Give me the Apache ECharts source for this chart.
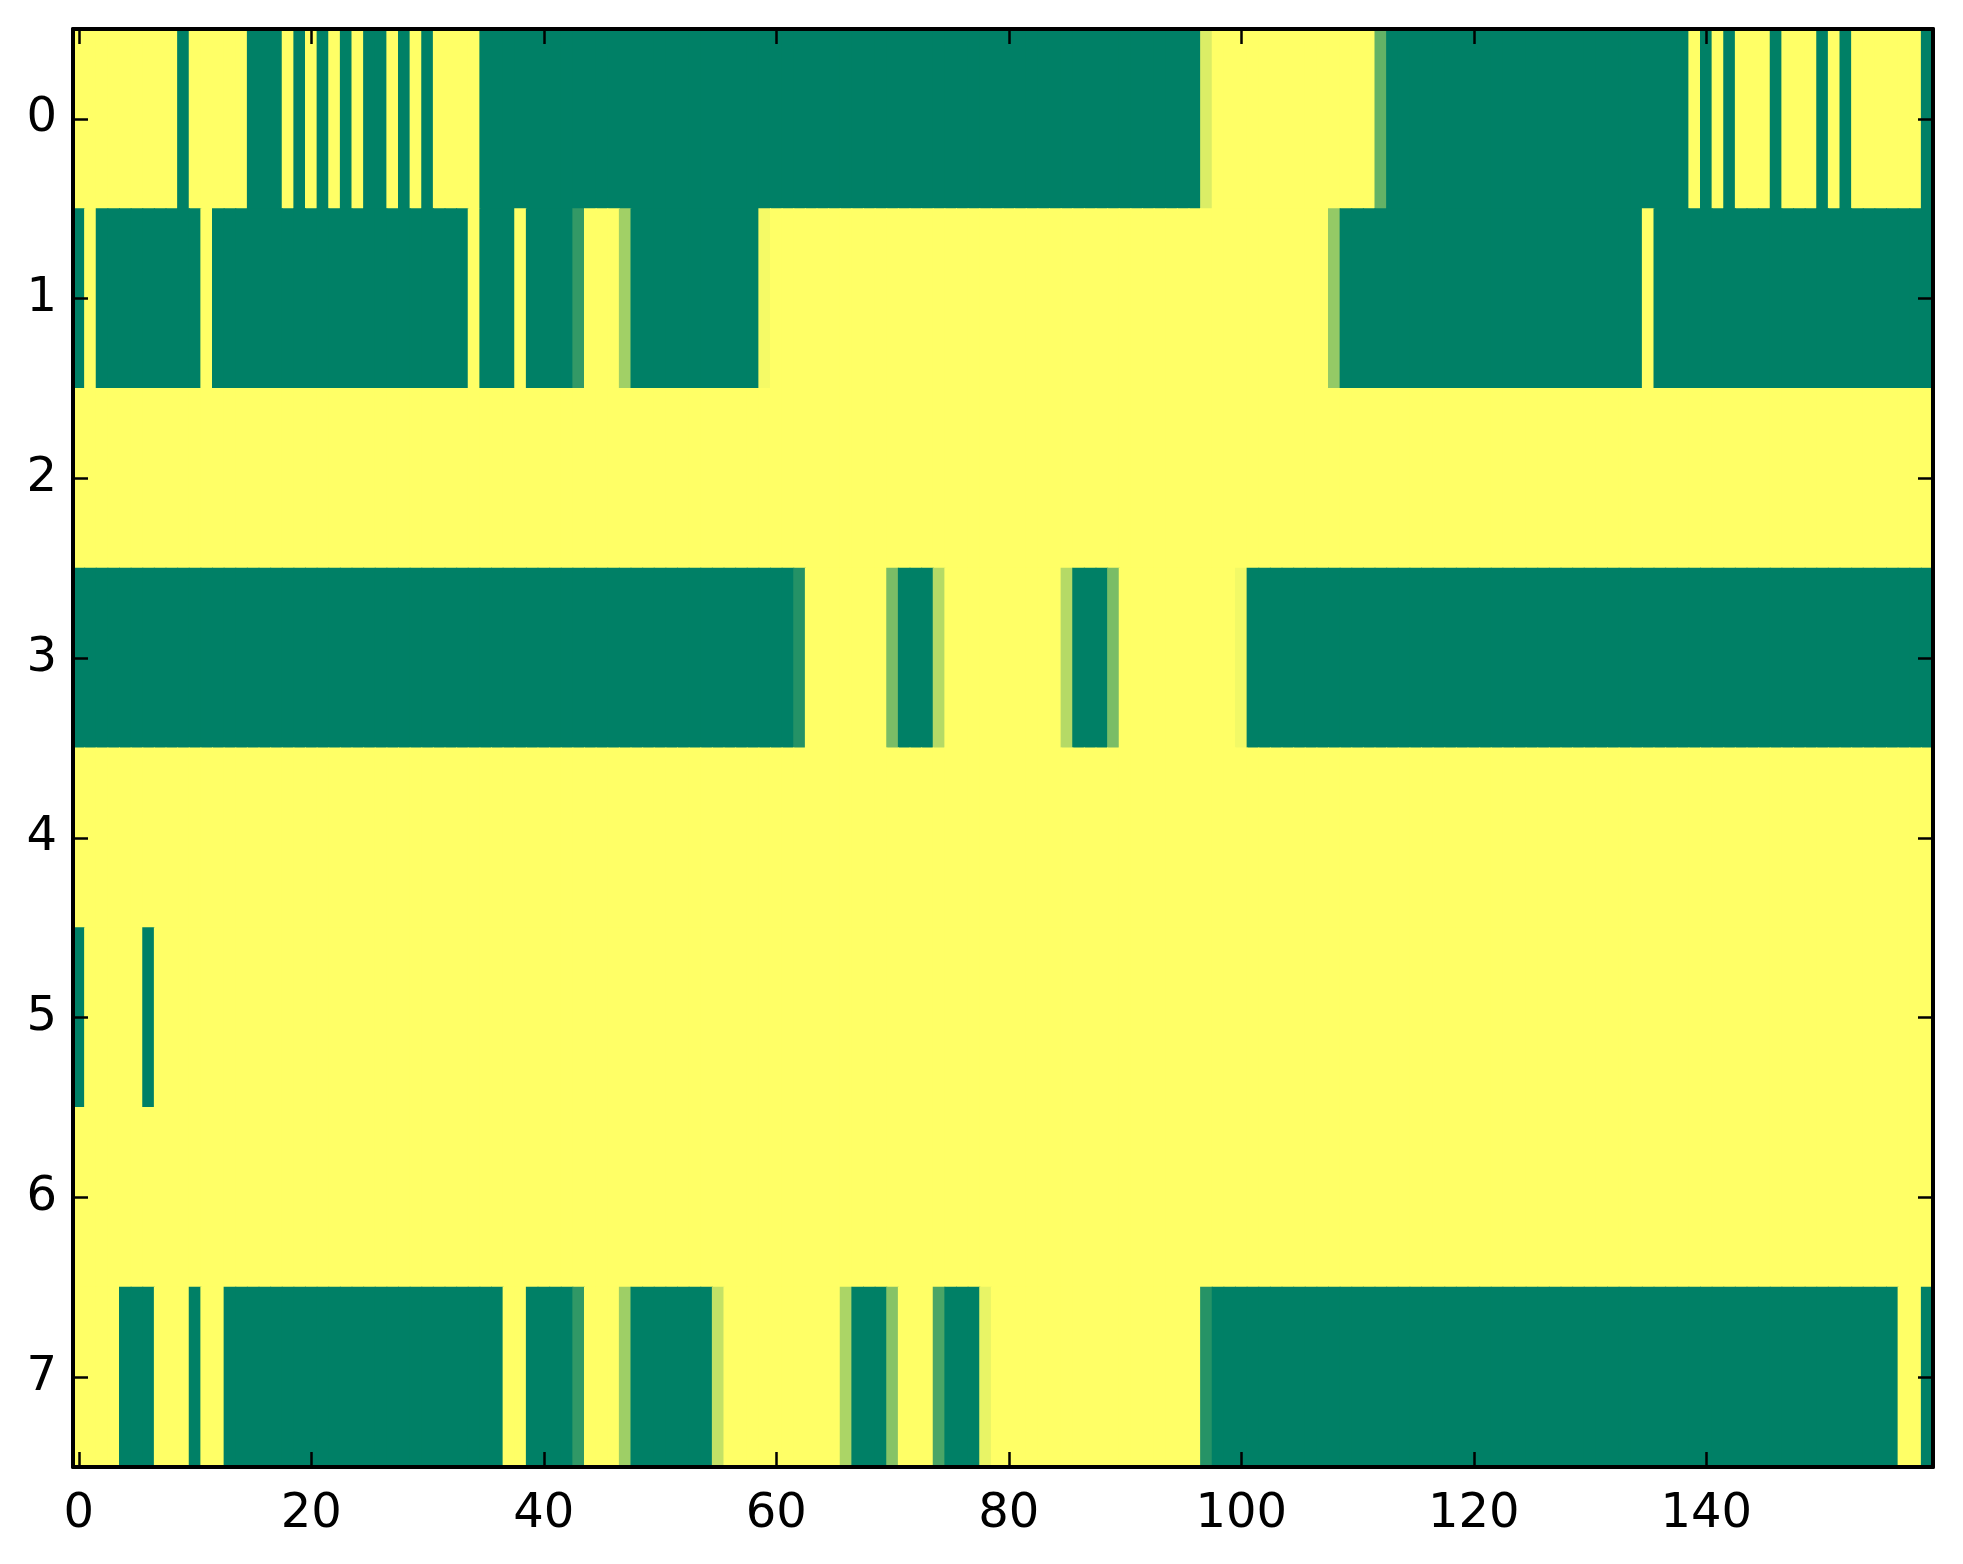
<!DOCTYPE html>
<html>
<head>
<meta charset="utf-8">
<script src="https://cdn.jsdelivr.net/npm/echarts@6/dist/echarts.min.js"></script>
<style>
html,body{margin:0;padding:0;background:#fff;}
#chart{width:1963px;height:1564px;}
</style>
</head>
<body>
<div id="chart"></div>
<script>
// Row categories (top to bottom) and column categories
const yCats = ['0','1','2','3','4','5','6','7'];
const xCats = [];
for (let i = 0; i < 160; i++) xCats.push(String(i));
const xTickEvery = 20;

// Cell values per row (0 = green, 1 = yellow)
const row0 = [1,1,1,1,1,1,1,1,1,0,1,1,1,1,1,0,0,0,1,0,1,0,1,0,1,0,0,1,0,1,0,1,1,1,1,
0,0,0,0,0,0,0,0,0,0,0,0,0,0,0,0,0,0,0,0,0,0,0,0,0,0,0,0,0,0,0,0,0,0,0,0,0,0,0,0,0,0,0,0,0,0,0,0,0,0,0,0,0,0,0,0,0,0,0,0,0,0,
0.86,1,1,1,1,1,1,1,1,1,1,1,1,1,1,0.39,
0,0,0,0,0,0,0,0,0,0,0,0,0,0,0,0,0,0,0,0,0,0,0,0,0,0,
1,0,1,0,1,1,1,0,1,1,1,0,1,0,1,1,1,1,1,1,0];
const row1 = [0,1,0,0,0,0,0,0,0,0,0,1,0,0,0,0,0,0,0,0,0,0,0,0,0,0,0,0,0,0,0,0,0,0,1,0,0,0,1,0,0,0,0,
0.2,1,1,1,0.63,0,0,0,0,0,0,0,0,0,0,0,0.96,
1,1,1,1,1,1,1,1,1,1,1,1,1,1,1,1,1,1,1,1,1,1,1,1,1,1,1,1,1,1,1,1,1,1,1,1,1,1,1,1,1,1,1,1,1,1,1,1,
0.58,0,0,0,0,0,0,0,0,0,0,0,0,0,0,0,0,0,0,0,0,0,0,0,0,0,0,1,
0,0,0,0,0,0,0,0,0,0,0,0,0,0,0,0,0,0,0,0,0,0,0,0];
const row2 = [1,1,1,1,1,1,1,1,1,1,1,1,1,1,1,1,1,1,1,1,1,1,1,1,1,1,1,1,1,1,1,1,1,1,1,1,1,1,1,1,
1,1,1,1,1,1,1,1,1,1,1,1,1,1,1,1,1,1,1,1,1,1,1,1,1,1,1,1,1,1,1,1,1,1,1,1,1,1,1,1,
1,1,1,1,1,1,1,1,1,1,1,1,1,1,1,1,1,1,1,1,1,1,1,1,1,1,1,1,1,1,1,1,1,1,1,1,1,1,1,1,
1,1,1,1,1,1,1,1,1,1,1,1,1,1,1,1,1,1,1,1,1,1,1,1,1,1,1,1,1,1,1,1,1,1,1,1,1,1,1,1];
const row3 = [0,0,0,0,0,0,0,0,0,0,0,0,0,0,0,0,0,0,0,0,0,0,0,0,0,0,0,0,0,0,0,0,0,0,0,0,0,0,0,0,
0,0,0,0,0,0,0,0,0,0,0,0,0,0,0,0,0,0,0,0,0,0,
0.14,1,1,1,1,1,1,1,0.48,0,0,0,0.71,1,1,1,1,1,1,1,1,1,1,0.71,0,0,0,0.48,1,1,1,1,1,1,1,1,1,1,0.95,
0,0,0,0,0,0,0,0,0,0,0,0,0,0,0,0,0,0,0,0,0,0,0,0,0,0,0,0,0,0,0,0,0,0,0,0,0,0,0,0,
0,0,0,0,0,0,0,0,0,0,0,0,0,0,0,0,0,0,0];
const row4 = [1,1,1,1,1,1,1,1,1,1,1,1,1,1,1,1,1,1,1,1,1,1,1,1,1,1,1,1,1,1,1,1,1,1,1,1,1,1,1,1,
1,1,1,1,1,1,1,1,1,1,1,1,1,1,1,1,1,1,1,1,1,1,1,1,1,1,1,1,1,1,1,1,1,1,1,1,1,1,1,1,
1,1,1,1,1,1,1,1,1,1,1,1,1,1,1,1,1,1,1,1,1,1,1,1,1,1,1,1,1,1,1,1,1,1,1,1,1,1,1,1,
1,1,1,1,1,1,1,1,1,1,1,1,1,1,1,1,1,1,1,1,1,1,1,1,1,1,1,1,1,1,1,1,1,1,1,1,1,1,1,1];
const row5 = [0,1,1,1,1,1,0,1,1,1,1,1,1,1,1,1,1,1,1,1,1,1,1,1,1,1,1,1,1,1,1,1,1,1,1,1,1,1,1,1,
1,1,1,1,1,1,1,1,1,1,1,1,1,1,1,1,1,1,1,1,1,1,1,1,1,1,1,1,1,1,1,1,1,1,1,1,1,1,1,1,
1,1,1,1,1,1,1,1,1,1,1,1,1,1,1,1,1,1,1,1,1,1,1,1,1,1,1,1,1,1,1,1,1,1,1,1,1,1,1,1,
1,1,1,1,1,1,1,1,1,1,1,1,1,1,1,1,1,1,1,1,1,1,1,1,1,1,1,1,1,1,1,1,1,1,1,1,1,1,1,1];
const row6 = [1,1,1,1,1,1,1,1,1,1,1,1,1,1,1,1,1,1,1,1,1,1,1,1,1,1,1,1,1,1,1,1,1,1,1,1,1,1,1,1,
1,1,1,1,1,1,1,1,1,1,1,1,1,1,1,1,1,1,1,1,1,1,1,1,1,1,1,1,1,1,1,1,1,1,1,1,1,1,1,1,
1,1,1,1,1,1,1,1,1,1,1,1,1,1,1,1,1,1,1,1,1,1,1,1,1,1,1,1,1,1,1,1,1,1,1,1,1,1,1,1,
1,1,1,1,1,1,1,1,1,1,1,1,1,1,1,1,1,1,1,1,1,1,1,1,1,1,1,1,1,1,1,1,1,1,1,1,1,1,1,1];
const row7 = [1,1,1,1,0,0,0,1,1,1,0,1,1,
0,0,0,0,0,0,0,0,0,0,0,0,0,0,0,0,0,0,0,0,0,0,0,0,
1,1,0,0,0,0,0.19,1,1,1,0.62,0,0,0,0,0,0,0,0.77,1,1,1,1,1,1,1,1,1,1,0.67,0,0,0,0.53,1,1,1,0.29,0,0,0,0.91,
1,1,1,1,1,1,1,1,1,1,1,1,1,1,1,1,1,1,0.15,
0,0,0,0,0,0,0,0,0,0,0,0,0,0,0,0,0,0,0,0,0,0,0,0,0,0,0,0,0,0,0,0,0,0,0,0,0,0,0,0,
0,0,0,0,0,0,0,0,0,0,0,0,0,0,0,0,0,0,0,1,1,0];
const rows = [row0,row1,row2,row3,row4,row5,row6,row7];

const cells = [];
rows.forEach((r, yi) => r.forEach((v, xi) => cells.push([xi, yi, v])));

const tickFn = (i) => i % xTickEvery === 0;
const lineStyle = {color:'#000', width:4};
const tickStyle = {color:'#000', width:2.5};
const font = {fontFamily:'DejaVu Sans', fontSize:48, color:'#000'};

const chart = echarts.init(document.getElementById('chart'), null, {renderer:'canvas'});
chart.setOption({
  animation:false,
  backgroundColor:'#fff',
  grid:{left:73, right:30, top:29, bottom:97, containLabel:false},
  xAxis:[
    {type:'category', data:xCats, position:'bottom', boundaryGap:true, z:10,
     axisLine:{show:true, lineStyle:lineStyle},
     axisTick:{show:true, inside:true, length:15, alignWithLabel:true, interval:tickFn, lineStyle:tickStyle},
     axisLabel:Object.assign({interval:tickFn, margin:24}, font),
     splitLine:{show:false}},
    {type:'category', data:xCats, position:'top', boundaryGap:true, z:10,
     axisLine:{show:true, lineStyle:lineStyle},
     axisTick:{show:true, inside:true, length:15, alignWithLabel:true, interval:tickFn, lineStyle:tickStyle},
     axisLabel:{show:false}, splitLine:{show:false}}
  ],
  yAxis:[
    {type:'category', data:yCats, inverse:true, position:'left', boundaryGap:true, z:10,
     axisLine:{show:true, lineStyle:lineStyle},
     axisTick:{show:true, inside:true, length:15, alignWithLabel:true, lineStyle:tickStyle},
     axisLabel:Object.assign({margin:16}, font),
     splitLine:{show:false}},
    {type:'category', data:yCats, inverse:true, position:'right', boundaryGap:true, z:10,
     axisLine:{show:true, lineStyle:lineStyle},
     axisTick:{show:true, inside:true, length:15, alignWithLabel:true, lineStyle:tickStyle},
     axisLabel:{show:false}, splitLine:{show:false}}
  ],
  visualMap:{show:false, type:'continuous', min:0, max:1, dimension:2, seriesIndex:0,
    inRange:{color:['#008066','#ffff66']}},
  series:[{
    type:'custom', xAxisIndex:0, yAxisIndex:0, data:cells, z:2,
    encode:{x:0, y:1},
    renderItem:function(params, api){
      const p = api.coord([api.value(0), api.value(1)]);
      const s = api.size([1, 1]);
      return {
        type:'rect',
        shape:{x:p[0]-s[0]/2-0.5, y:p[1]-s[1]/2-0.5, width:s[0]+1, height:s[1]+1},
        style:{fill:api.visual('color'), stroke:null}
      };
    },
    emphasis:{disabled:true}, silent:true
  }]
});
</script>
</body>
</html>
